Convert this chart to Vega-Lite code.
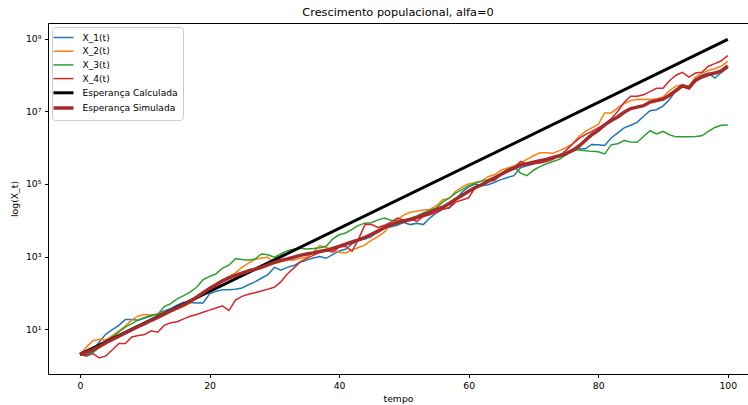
{
  "$schema": "https://vega.github.io/schema/vega-lite/v6.json",
  "autosize": "none",
  "width": 700,
  "height": 351,
  "padding": {"left": 48, "top": 23, "right": 0, "bottom": 31},
  "background": "white",
  "title": {"text": "Crescimento populacional, alfa=0", "fontSize": 11.3, "fontWeight": "normal", "color": "black", "font": "DejaVu Sans", "offset": 5},
  "config": {
    "font": "DejaVu Sans",
    "view": {"stroke": "black", "strokeWidth": 1},
    "axis": {"grid": false, "domain": false, "tickColor": "black", "tickSize": 3.5, "labelFontSize": 9.3, "labelColor": "black", "titleFontSize": 9.3, "titleFontWeight": "normal", "titleColor": "black", "labelPadding": 3.5},
    "legend": {"orient": "top-left", "offset": 4, "fillColor": "rgba(255,255,255,0.8)", "strokeColor": "#cccccc", "cornerRadius": 3, "padding": 4.5, "symbolType": "M-2,0H2", "symbolSize": 100, "labelFontSize": 9.1, "labelColor": "black", "rowPadding": 1.7, "labelOffset": 12}
  },
  "datasets": {
    "calc": [{"t": 0, "s": "Esperança Calculada", "v": 0.301}, {"t": 100, "s": "Esperança Calculada", "v": 8.987}],
    "sim": [
{"t":0,"s":"X_1(t)","v":0.30},{"t":1,"s":"X_1(t)","v":0.29},{"t":2,"s":"X_1(t)","v":0.38},{"t":3,"s":"X_1(t)","v":0.65},{"t":4,"s":"X_1(t)","v":0.86},{"t":5,"s":"X_1(t)","v":0.98},{"t":6,"s":"X_1(t)","v":1.10},{"t":7,"s":"X_1(t)","v":1.26},{"t":8,"s":"X_1(t)","v":1.26},{"t":9,"s":"X_1(t)","v":1.24},{"t":10,"s":"X_1(t)","v":1.30},{"t":11,"s":"X_1(t)","v":1.36},{"t":12,"s":"X_1(t)","v":1.42},{"t":13,"s":"X_1(t)","v":1.50},{"t":14,"s":"X_1(t)","v":1.56},{"t":15,"s":"X_1(t)","v":1.66},{"t":16,"s":"X_1(t)","v":1.74},{"t":17,"s":"X_1(t)","v":1.73},{"t":18,"s":"X_1(t)","v":1.72},{"t":19,"s":"X_1(t)","v":1.72},{"t":20,"s":"X_1(t)","v":1.97},{"t":21,"s":"X_1(t)","v":2.04},{"t":22,"s":"X_1(t)","v":2.08},{"t":23,"s":"X_1(t)","v":2.08},{"t":24,"s":"X_1(t)","v":2.10},{"t":25,"s":"X_1(t)","v":2.13},{"t":26,"s":"X_1(t)","v":2.22},{"t":27,"s":"X_1(t)","v":2.30},{"t":28,"s":"X_1(t)","v":2.40},{"t":29,"s":"X_1(t)","v":2.50},{"t":30,"s":"X_1(t)","v":2.70},{"t":31,"s":"X_1(t)","v":2.62},{"t":32,"s":"X_1(t)","v":2.70},{"t":33,"s":"X_1(t)","v":2.75},{"t":34,"s":"X_1(t)","v":2.85},{"t":35,"s":"X_1(t)","v":2.90},{"t":36,"s":"X_1(t)","v":2.96},{"t":37,"s":"X_1(t)","v":3.00},{"t":38,"s":"X_1(t)","v":2.95},{"t":39,"s":"X_1(t)","v":3.05},{"t":40,"s":"X_1(t)","v":3.15},{"t":41,"s":"X_1(t)","v":3.20},{"t":42,"s":"X_1(t)","v":3.35},{"t":43,"s":"X_1(t)","v":3.45},{"t":44,"s":"X_1(t)","v":3.48},{"t":45,"s":"X_1(t)","v":3.55},{"t":46,"s":"X_1(t)","v":3.70},{"t":47,"s":"X_1(t)","v":3.78},{"t":48,"s":"X_1(t)","v":3.82},{"t":49,"s":"X_1(t)","v":3.86},{"t":50,"s":"X_1(t)","v":3.94},{"t":51,"s":"X_1(t)","v":3.88},{"t":52,"s":"X_1(t)","v":3.92},{"t":53,"s":"X_1(t)","v":3.88},{"t":54,"s":"X_1(t)","v":4.06},{"t":55,"s":"X_1(t)","v":4.20},{"t":56,"s":"X_1(t)","v":4.30},{"t":57,"s":"X_1(t)","v":4.35},{"t":58,"s":"X_1(t)","v":4.57},{"t":59,"s":"X_1(t)","v":4.78},{"t":60,"s":"X_1(t)","v":4.92},{"t":61,"s":"X_1(t)","v":5.00},{"t":62,"s":"X_1(t)","v":4.95},{"t":63,"s":"X_1(t)","v":4.98},{"t":64,"s":"X_1(t)","v":5.05},{"t":65,"s":"X_1(t)","v":5.12},{"t":66,"s":"X_1(t)","v":5.18},{"t":67,"s":"X_1(t)","v":5.23},{"t":68,"s":"X_1(t)","v":5.45},{"t":69,"s":"X_1(t)","v":5.50},{"t":70,"s":"X_1(t)","v":5.55},{"t":71,"s":"X_1(t)","v":5.62},{"t":72,"s":"X_1(t)","v":5.68},{"t":73,"s":"X_1(t)","v":5.73},{"t":74,"s":"X_1(t)","v":5.75},{"t":75,"s":"X_1(t)","v":5.80},{"t":76,"s":"X_1(t)","v":5.95},{"t":77,"s":"X_1(t)","v":5.97},{"t":78,"s":"X_1(t)","v":5.97},{"t":79,"s":"X_1(t)","v":6.09},{"t":80,"s":"X_1(t)","v":6.08},{"t":81,"s":"X_1(t)","v":6.06},{"t":82,"s":"X_1(t)","v":6.27},{"t":83,"s":"X_1(t)","v":6.41},{"t":84,"s":"X_1(t)","v":6.55},{"t":85,"s":"X_1(t)","v":6.62},{"t":86,"s":"X_1(t)","v":6.70},{"t":87,"s":"X_1(t)","v":6.87},{"t":88,"s":"X_1(t)","v":7.02},{"t":89,"s":"X_1(t)","v":7.05},{"t":90,"s":"X_1(t)","v":7.15},{"t":91,"s":"X_1(t)","v":7.33},{"t":92,"s":"X_1(t)","v":7.58},{"t":93,"s":"X_1(t)","v":7.69},{"t":94,"s":"X_1(t)","v":7.70},{"t":95,"s":"X_1(t)","v":7.90},{"t":96,"s":"X_1(t)","v":8.00},{"t":97,"s":"X_1(t)","v":8.06},{"t":98,"s":"X_1(t)","v":7.92},{"t":99,"s":"X_1(t)","v":8.08},{"t":100,"s":"X_1(t)","v":8.20},
{"t":0,"s":"X_2(t)","v":0.30},{"t":1,"s":"X_2(t)","v":0.50},{"t":2,"s":"X_2(t)","v":0.68},{"t":3,"s":"X_2(t)","v":0.72},{"t":4,"s":"X_2(t)","v":0.70},{"t":5,"s":"X_2(t)","v":0.82},{"t":6,"s":"X_2(t)","v":0.95},{"t":7,"s":"X_2(t)","v":1.08},{"t":8,"s":"X_2(t)","v":1.25},{"t":9,"s":"X_2(t)","v":1.36},{"t":10,"s":"X_2(t)","v":1.40},{"t":11,"s":"X_2(t)","v":1.38},{"t":12,"s":"X_2(t)","v":1.42},{"t":13,"s":"X_2(t)","v":1.45},{"t":14,"s":"X_2(t)","v":1.50},{"t":15,"s":"X_2(t)","v":1.55},{"t":16,"s":"X_2(t)","v":1.62},{"t":17,"s":"X_2(t)","v":1.72},{"t":18,"s":"X_2(t)","v":1.85},{"t":19,"s":"X_2(t)","v":2.00},{"t":20,"s":"X_2(t)","v":2.15},{"t":21,"s":"X_2(t)","v":2.25},{"t":22,"s":"X_2(t)","v":2.35},{"t":23,"s":"X_2(t)","v":2.45},{"t":24,"s":"X_2(t)","v":2.55},{"t":25,"s":"X_2(t)","v":2.70},{"t":26,"s":"X_2(t)","v":2.82},{"t":27,"s":"X_2(t)","v":2.92},{"t":28,"s":"X_2(t)","v":2.96},{"t":29,"s":"X_2(t)","v":2.98},{"t":30,"s":"X_2(t)","v":2.80},{"t":31,"s":"X_2(t)","v":2.86},{"t":32,"s":"X_2(t)","v":2.92},{"t":33,"s":"X_2(t)","v":2.90},{"t":34,"s":"X_2(t)","v":2.95},{"t":35,"s":"X_2(t)","v":2.98},{"t":36,"s":"X_2(t)","v":3.12},{"t":37,"s":"X_2(t)","v":3.30},{"t":38,"s":"X_2(t)","v":3.25},{"t":39,"s":"X_2(t)","v":3.18},{"t":40,"s":"X_2(t)","v":3.12},{"t":41,"s":"X_2(t)","v":3.10},{"t":42,"s":"X_2(t)","v":3.18},{"t":43,"s":"X_2(t)","v":3.25},{"t":44,"s":"X_2(t)","v":3.32},{"t":45,"s":"X_2(t)","v":3.45},{"t":46,"s":"X_2(t)","v":3.55},{"t":47,"s":"X_2(t)","v":3.68},{"t":48,"s":"X_2(t)","v":3.88},{"t":49,"s":"X_2(t)","v":4.02},{"t":50,"s":"X_2(t)","v":4.15},{"t":51,"s":"X_2(t)","v":4.22},{"t":52,"s":"X_2(t)","v":4.25},{"t":53,"s":"X_2(t)","v":4.28},{"t":54,"s":"X_2(t)","v":4.30},{"t":55,"s":"X_2(t)","v":4.40},{"t":56,"s":"X_2(t)","v":4.57},{"t":57,"s":"X_2(t)","v":4.60},{"t":58,"s":"X_2(t)","v":4.80},{"t":59,"s":"X_2(t)","v":4.92},{"t":60,"s":"X_2(t)","v":5.00},{"t":61,"s":"X_2(t)","v":5.04},{"t":62,"s":"X_2(t)","v":5.08},{"t":63,"s":"X_2(t)","v":5.20},{"t":64,"s":"X_2(t)","v":5.26},{"t":65,"s":"X_2(t)","v":5.38},{"t":66,"s":"X_2(t)","v":5.44},{"t":67,"s":"X_2(t)","v":5.50},{"t":68,"s":"X_2(t)","v":5.58},{"t":69,"s":"X_2(t)","v":5.68},{"t":70,"s":"X_2(t)","v":5.78},{"t":71,"s":"X_2(t)","v":5.86},{"t":72,"s":"X_2(t)","v":5.86},{"t":73,"s":"X_2(t)","v":5.85},{"t":74,"s":"X_2(t)","v":5.92},{"t":75,"s":"X_2(t)","v":6.00},{"t":76,"s":"X_2(t)","v":6.10},{"t":77,"s":"X_2(t)","v":6.30},{"t":78,"s":"X_2(t)","v":6.45},{"t":79,"s":"X_2(t)","v":6.55},{"t":80,"s":"X_2(t)","v":6.64},{"t":81,"s":"X_2(t)","v":6.96},{"t":82,"s":"X_2(t)","v":6.96},{"t":83,"s":"X_2(t)","v":7.10},{"t":84,"s":"X_2(t)","v":7.22},{"t":85,"s":"X_2(t)","v":7.30},{"t":86,"s":"X_2(t)","v":7.33},{"t":87,"s":"X_2(t)","v":7.34},{"t":88,"s":"X_2(t)","v":7.33},{"t":89,"s":"X_2(t)","v":7.35},{"t":90,"s":"X_2(t)","v":7.40},{"t":91,"s":"X_2(t)","v":7.58},{"t":92,"s":"X_2(t)","v":7.70},{"t":93,"s":"X_2(t)","v":7.74},{"t":94,"s":"X_2(t)","v":7.69},{"t":95,"s":"X_2(t)","v":7.95},{"t":96,"s":"X_2(t)","v":8.05},{"t":97,"s":"X_2(t)","v":8.13},{"t":98,"s":"X_2(t)","v":8.18},{"t":99,"s":"X_2(t)","v":8.25},{"t":100,"s":"X_2(t)","v":8.38},
{"t":0,"s":"X_3(t)","v":0.30},{"t":1,"s":"X_3(t)","v":0.25},{"t":2,"s":"X_3(t)","v":0.35},{"t":3,"s":"X_3(t)","v":0.50},{"t":4,"s":"X_3(t)","v":0.62},{"t":5,"s":"X_3(t)","v":0.78},{"t":6,"s":"X_3(t)","v":0.92},{"t":7,"s":"X_3(t)","v":1.05},{"t":8,"s":"X_3(t)","v":1.15},{"t":9,"s":"X_3(t)","v":1.25},{"t":10,"s":"X_3(t)","v":1.32},{"t":11,"s":"X_3(t)","v":1.38},{"t":12,"s":"X_3(t)","v":1.40},{"t":13,"s":"X_3(t)","v":1.62},{"t":14,"s":"X_3(t)","v":1.70},{"t":15,"s":"X_3(t)","v":1.83},{"t":16,"s":"X_3(t)","v":1.92},{"t":17,"s":"X_3(t)","v":2.02},{"t":18,"s":"X_3(t)","v":2.15},{"t":19,"s":"X_3(t)","v":2.36},{"t":20,"s":"X_3(t)","v":2.45},{"t":21,"s":"X_3(t)","v":2.52},{"t":22,"s":"X_3(t)","v":2.68},{"t":23,"s":"X_3(t)","v":2.76},{"t":24,"s":"X_3(t)","v":2.94},{"t":25,"s":"X_3(t)","v":2.92},{"t":26,"s":"X_3(t)","v":2.90},{"t":27,"s":"X_3(t)","v":2.93},{"t":28,"s":"X_3(t)","v":3.07},{"t":29,"s":"X_3(t)","v":3.05},{"t":30,"s":"X_3(t)","v":2.98},{"t":31,"s":"X_3(t)","v":3.07},{"t":32,"s":"X_3(t)","v":3.16},{"t":33,"s":"X_3(t)","v":3.20},{"t":34,"s":"X_3(t)","v":3.23},{"t":35,"s":"X_3(t)","v":3.21},{"t":36,"s":"X_3(t)","v":3.22},{"t":37,"s":"X_3(t)","v":3.24},{"t":38,"s":"X_3(t)","v":3.28},{"t":39,"s":"X_3(t)","v":3.48},{"t":40,"s":"X_3(t)","v":3.60},{"t":41,"s":"X_3(t)","v":3.65},{"t":42,"s":"X_3(t)","v":3.75},{"t":43,"s":"X_3(t)","v":3.86},{"t":44,"s":"X_3(t)","v":3.92},{"t":45,"s":"X_3(t)","v":3.93},{"t":46,"s":"X_3(t)","v":4.01},{"t":47,"s":"X_3(t)","v":4.06},{"t":48,"s":"X_3(t)","v":4.00},{"t":49,"s":"X_3(t)","v":3.99},{"t":50,"s":"X_3(t)","v":3.97},{"t":51,"s":"X_3(t)","v":4.06},{"t":52,"s":"X_3(t)","v":4.12},{"t":53,"s":"X_3(t)","v":4.20},{"t":54,"s":"X_3(t)","v":4.28},{"t":55,"s":"X_3(t)","v":4.34},{"t":56,"s":"X_3(t)","v":4.50},{"t":57,"s":"X_3(t)","v":4.62},{"t":58,"s":"X_3(t)","v":4.75},{"t":59,"s":"X_3(t)","v":4.85},{"t":60,"s":"X_3(t)","v":4.95},{"t":61,"s":"X_3(t)","v":5.02},{"t":62,"s":"X_3(t)","v":5.08},{"t":63,"s":"X_3(t)","v":5.12},{"t":64,"s":"X_3(t)","v":5.18},{"t":65,"s":"X_3(t)","v":5.28},{"t":66,"s":"X_3(t)","v":5.40},{"t":67,"s":"X_3(t)","v":5.48},{"t":68,"s":"X_3(t)","v":5.30},{"t":69,"s":"X_3(t)","v":5.23},{"t":70,"s":"X_3(t)","v":5.38},{"t":71,"s":"X_3(t)","v":5.48},{"t":72,"s":"X_3(t)","v":5.56},{"t":73,"s":"X_3(t)","v":5.62},{"t":74,"s":"X_3(t)","v":5.68},{"t":75,"s":"X_3(t)","v":5.80},{"t":76,"s":"X_3(t)","v":5.94},{"t":77,"s":"X_3(t)","v":5.94},{"t":78,"s":"X_3(t)","v":5.92},{"t":79,"s":"X_3(t)","v":5.90},{"t":80,"s":"X_3(t)","v":5.89},{"t":81,"s":"X_3(t)","v":5.83},{"t":82,"s":"X_3(t)","v":6.08},{"t":83,"s":"X_3(t)","v":6.11},{"t":84,"s":"X_3(t)","v":6.20},{"t":85,"s":"X_3(t)","v":6.16},{"t":86,"s":"X_3(t)","v":6.15},{"t":87,"s":"X_3(t)","v":6.31},{"t":88,"s":"X_3(t)","v":6.47},{"t":89,"s":"X_3(t)","v":6.38},{"t":90,"s":"X_3(t)","v":6.45},{"t":91,"s":"X_3(t)","v":6.36},{"t":92,"s":"X_3(t)","v":6.30},{"t":93,"s":"X_3(t)","v":6.30},{"t":94,"s":"X_3(t)","v":6.30},{"t":95,"s":"X_3(t)","v":6.31},{"t":96,"s":"X_3(t)","v":6.33},{"t":97,"s":"X_3(t)","v":6.45},{"t":98,"s":"X_3(t)","v":6.56},{"t":99,"s":"X_3(t)","v":6.62},{"t":100,"s":"X_3(t)","v":6.63},
{"t":0,"s":"X_4(t)","v":0.30},{"t":1,"s":"X_4(t)","v":0.26},{"t":2,"s":"X_4(t)","v":0.32},{"t":3,"s":"X_4(t)","v":0.20},{"t":4,"s":"X_4(t)","v":0.26},{"t":5,"s":"X_4(t)","v":0.43},{"t":6,"s":"X_4(t)","v":0.60},{"t":7,"s":"X_4(t)","v":0.60},{"t":8,"s":"X_4(t)","v":0.78},{"t":9,"s":"X_4(t)","v":0.82},{"t":10,"s":"X_4(t)","v":0.85},{"t":11,"s":"X_4(t)","v":0.95},{"t":12,"s":"X_4(t)","v":0.91},{"t":13,"s":"X_4(t)","v":1.10},{"t":14,"s":"X_4(t)","v":1.17},{"t":15,"s":"X_4(t)","v":1.20},{"t":16,"s":"X_4(t)","v":1.28},{"t":17,"s":"X_4(t)","v":1.35},{"t":18,"s":"X_4(t)","v":1.40},{"t":19,"s":"X_4(t)","v":1.46},{"t":20,"s":"X_4(t)","v":1.52},{"t":21,"s":"X_4(t)","v":1.58},{"t":22,"s":"X_4(t)","v":1.64},{"t":23,"s":"X_4(t)","v":1.51},{"t":24,"s":"X_4(t)","v":1.80},{"t":25,"s":"X_4(t)","v":1.90},{"t":26,"s":"X_4(t)","v":1.96},{"t":27,"s":"X_4(t)","v":2.00},{"t":28,"s":"X_4(t)","v":2.05},{"t":29,"s":"X_4(t)","v":2.10},{"t":30,"s":"X_4(t)","v":2.15},{"t":31,"s":"X_4(t)","v":2.30},{"t":32,"s":"X_4(t)","v":2.52},{"t":33,"s":"X_4(t)","v":2.68},{"t":34,"s":"X_4(t)","v":2.85},{"t":35,"s":"X_4(t)","v":2.95},{"t":36,"s":"X_4(t)","v":3.03},{"t":37,"s":"X_4(t)","v":3.12},{"t":38,"s":"X_4(t)","v":3.18},{"t":39,"s":"X_4(t)","v":3.12},{"t":40,"s":"X_4(t)","v":3.26},{"t":41,"s":"X_4(t)","v":3.28},{"t":42,"s":"X_4(t)","v":3.15},{"t":43,"s":"X_4(t)","v":3.48},{"t":44,"s":"X_4(t)","v":3.88},{"t":45,"s":"X_4(t)","v":3.88},{"t":46,"s":"X_4(t)","v":3.80},{"t":47,"s":"X_4(t)","v":3.86},{"t":48,"s":"X_4(t)","v":3.95},{"t":49,"s":"X_4(t)","v":4.06},{"t":50,"s":"X_4(t)","v":4.00},{"t":51,"s":"X_4(t)","v":4.04},{"t":52,"s":"X_4(t)","v":3.97},{"t":53,"s":"X_4(t)","v":4.10},{"t":54,"s":"X_4(t)","v":4.15},{"t":55,"s":"X_4(t)","v":4.22},{"t":56,"s":"X_4(t)","v":4.31},{"t":57,"s":"X_4(t)","v":4.34},{"t":58,"s":"X_4(t)","v":4.50},{"t":59,"s":"X_4(t)","v":4.56},{"t":60,"s":"X_4(t)","v":4.62},{"t":61,"s":"X_4(t)","v":4.90},{"t":62,"s":"X_4(t)","v":5.00},{"t":63,"s":"X_4(t)","v":5.07},{"t":64,"s":"X_4(t)","v":5.10},{"t":65,"s":"X_4(t)","v":5.25},{"t":66,"s":"X_4(t)","v":5.35},{"t":67,"s":"X_4(t)","v":5.44},{"t":68,"s":"X_4(t)","v":5.62},{"t":69,"s":"X_4(t)","v":5.53},{"t":70,"s":"X_4(t)","v":5.56},{"t":71,"s":"X_4(t)","v":5.58},{"t":72,"s":"X_4(t)","v":5.62},{"t":73,"s":"X_4(t)","v":5.68},{"t":74,"s":"X_4(t)","v":5.78},{"t":75,"s":"X_4(t)","v":5.92},{"t":76,"s":"X_4(t)","v":6.10},{"t":77,"s":"X_4(t)","v":6.25},{"t":78,"s":"X_4(t)","v":6.36},{"t":79,"s":"X_4(t)","v":6.45},{"t":80,"s":"X_4(t)","v":6.55},{"t":81,"s":"X_4(t)","v":6.65},{"t":82,"s":"X_4(t)","v":6.80},{"t":83,"s":"X_4(t)","v":7.00},{"t":84,"s":"X_4(t)","v":7.25},{"t":85,"s":"X_4(t)","v":7.42},{"t":86,"s":"X_4(t)","v":7.42},{"t":87,"s":"X_4(t)","v":7.46},{"t":88,"s":"X_4(t)","v":7.55},{"t":89,"s":"X_4(t)","v":7.64},{"t":90,"s":"X_4(t)","v":7.64},{"t":91,"s":"X_4(t)","v":7.85},{"t":92,"s":"X_4(t)","v":8.00},{"t":93,"s":"X_4(t)","v":8.08},{"t":94,"s":"X_4(t)","v":7.95},{"t":95,"s":"X_4(t)","v":8.06},{"t":96,"s":"X_4(t)","v":8.08},{"t":97,"s":"X_4(t)","v":8.25},{"t":98,"s":"X_4(t)","v":8.32},{"t":99,"s":"X_4(t)","v":8.40},{"t":100,"s":"X_4(t)","v":8.54},
{"t":0,"s":"Esperança Simulada","v":0.30},{"t":1,"s":"Esperança Simulada","v":0.36},{"t":2,"s":"Esperança Simulada","v":0.43},{"t":3,"s":"Esperança Simulada","v":0.52},{"t":4,"s":"Esperança Simulada","v":0.62},{"t":5,"s":"Esperança Simulada","v":0.71},{"t":6,"s":"Esperança Simulada","v":0.80},{"t":7,"s":"Esperança Simulada","v":0.89},{"t":8,"s":"Esperança Simulada","v":0.98},{"t":9,"s":"Esperança Simulada","v":1.07},{"t":10,"s":"Esperança Simulada","v":1.15},{"t":11,"s":"Esperança Simulada","v":1.24},{"t":12,"s":"Esperança Simulada","v":1.32},{"t":13,"s":"Esperança Simulada","v":1.41},{"t":14,"s":"Esperança Simulada","v":1.50},{"t":15,"s":"Esperança Simulada","v":1.58},{"t":16,"s":"Esperança Simulada","v":1.67},{"t":17,"s":"Esperança Simulada","v":1.76},{"t":18,"s":"Esperança Simulada","v":1.88},{"t":19,"s":"Esperança Simulada","v":2.00},{"t":20,"s":"Esperança Simulada","v":2.12},{"t":21,"s":"Esperança Simulada","v":2.22},{"t":22,"s":"Esperança Simulada","v":2.33},{"t":23,"s":"Esperança Simulada","v":2.41},{"t":24,"s":"Esperança Simulada","v":2.48},{"t":25,"s":"Esperança Simulada","v":2.54},{"t":26,"s":"Esperança Simulada","v":2.60},{"t":27,"s":"Esperança Simulada","v":2.65},{"t":28,"s":"Esperança Simulada","v":2.70},{"t":29,"s":"Esperança Simulada","v":2.77},{"t":30,"s":"Esperança Simulada","v":2.84},{"t":31,"s":"Esperança Simulada","v":2.89},{"t":32,"s":"Esperança Simulada","v":2.93},{"t":33,"s":"Esperança Simulada","v":2.98},{"t":34,"s":"Esperança Simulada","v":3.03},{"t":35,"s":"Esperança Simulada","v":3.07},{"t":36,"s":"Esperança Simulada","v":3.10},{"t":37,"s":"Esperança Simulada","v":3.14},{"t":38,"s":"Esperança Simulada","v":3.17},{"t":39,"s":"Esperança Simulada","v":3.22},{"t":40,"s":"Esperança Simulada","v":3.28},{"t":41,"s":"Esperança Simulada","v":3.34},{"t":42,"s":"Esperança Simulada","v":3.40},{"t":43,"s":"Esperança Simulada","v":3.46},{"t":44,"s":"Esperança Simulada","v":3.53},{"t":45,"s":"Esperança Simulada","v":3.61},{"t":46,"s":"Esperança Simulada","v":3.70},{"t":47,"s":"Esperança Simulada","v":3.80},{"t":48,"s":"Esperança Simulada","v":3.88},{"t":49,"s":"Esperança Simulada","v":3.93},{"t":50,"s":"Esperança Simulada","v":3.98},{"t":51,"s":"Esperança Simulada","v":4.02},{"t":52,"s":"Esperança Simulada","v":4.07},{"t":53,"s":"Esperança Simulada","v":4.15},{"t":54,"s":"Esperança Simulada","v":4.22},{"t":55,"s":"Esperança Simulada","v":4.29},{"t":56,"s":"Esperança Simulada","v":4.36},{"t":57,"s":"Esperança Simulada","v":4.46},{"t":58,"s":"Esperança Simulada","v":4.58},{"t":59,"s":"Esperança Simulada","v":4.69},{"t":60,"s":"Esperança Simulada","v":4.80},{"t":61,"s":"Esperança Simulada","v":4.90},{"t":62,"s":"Esperança Simulada","v":4.98},{"t":63,"s":"Esperança Simulada","v":5.08},{"t":64,"s":"Esperança Simulada","v":5.17},{"t":65,"s":"Esperança Simulada","v":5.27},{"t":66,"s":"Esperança Simulada","v":5.36},{"t":67,"s":"Esperança Simulada","v":5.44},{"t":68,"s":"Esperança Simulada","v":5.52},{"t":69,"s":"Esperança Simulada","v":5.56},{"t":70,"s":"Esperança Simulada","v":5.60},{"t":71,"s":"Esperança Simulada","v":5.64},{"t":72,"s":"Esperança Simulada","v":5.68},{"t":73,"s":"Esperança Simulada","v":5.73},{"t":74,"s":"Esperança Simulada","v":5.78},{"t":75,"s":"Esperança Simulada","v":5.84},{"t":76,"s":"Esperança Simulada","v":5.92},{"t":77,"s":"Esperança Simulada","v":6.04},{"t":78,"s":"Esperança Simulada","v":6.20},{"t":79,"s":"Esperança Simulada","v":6.36},{"t":80,"s":"Esperança Simulada","v":6.48},{"t":81,"s":"Esperança Simulada","v":6.63},{"t":82,"s":"Esperança Simulada","v":6.75},{"t":83,"s":"Esperança Simulada","v":6.85},{"t":84,"s":"Esperança Simulada","v":6.98},{"t":85,"s":"Esperança Simulada","v":7.08},{"t":86,"s":"Esperança Simulada","v":7.12},{"t":87,"s":"Esperança Simulada","v":7.16},{"t":88,"s":"Esperança Simulada","v":7.26},{"t":89,"s":"Esperança Simulada","v":7.30},{"t":90,"s":"Esperança Simulada","v":7.34},{"t":91,"s":"Esperança Simulada","v":7.45},{"t":92,"s":"Esperança Simulada","v":7.58},{"t":93,"s":"Esperança Simulada","v":7.71},{"t":94,"s":"Esperança Simulada","v":7.65},{"t":95,"s":"Esperança Simulada","v":7.86},{"t":96,"s":"Esperança Simulada","v":7.95},{"t":97,"s":"Esperança Simulada","v":8.02},{"t":98,"s":"Esperança Simulada","v":8.06},{"t":99,"s":"Esperança Simulada","v":8.12},{"t":100,"s":"Esperança Simulada","v":8.26}
    ]
  },
  "encoding": {
    "x": {"field": "t", "type": "quantitative", "scale": {"domain": [-4.94, 103.12], "nice": false, "zero": false}, "axis": {"values": [0, 20, 40, 60, 80, 100], "title": "tempo", "titlePadding": 4}},
    "y": {"field": "v", "type": "quantitative", "scale": {"domain": [-0.241, 9.441], "nice": false, "zero": false}, "axis": {"values": [1, 3, 5, 7, 9], "title": "log(X_t)", "titlePadding": 6, "labelExpr": "datum.value == 1 ? '10¹' : datum.value == 3 ? '10³' : datum.value == 5 ? '10⁵' : datum.value == 7 ? '10⁷' : '10⁹'"}},
    "color": {"field": "s", "type": "nominal", "scale": {"domain": ["X_1(t)", "X_2(t)", "X_3(t)", "X_4(t)", "Esperança Calculada", "Esperança Simulada"], "range": ["#1f77b4", "#ff7f0e", "#2ca02c", "#d62728", "#000000", "#a52a2a"]}, "legend": {"title": null}},
    "strokeWidth": {"field": "s", "type": "nominal", "scale": {"type": "ordinal", "domain": ["X_1(t)", "X_2(t)", "X_3(t)", "X_4(t)", "Esperança Calculada", "Esperança Simulada"], "range": [1.5, 1.5, 1.5, 1.5, 3, 3.5]}, "legend": {"title": null}}
  },
  "layer": [
    {"data": {"name": "sim"}, "transform": [{"filter": {"field": "s", "equal": "X_1(t)"}}], "mark": {"type": "line"}},
    {"data": {"name": "sim"}, "transform": [{"filter": {"field": "s", "equal": "X_2(t)"}}], "mark": {"type": "line"}},
    {"data": {"name": "sim"}, "transform": [{"filter": {"field": "s", "equal": "X_3(t)"}}], "mark": {"type": "line"}},
    {"data": {"name": "sim"}, "transform": [{"filter": {"field": "s", "equal": "X_4(t)"}}], "mark": {"type": "line"}},
    {"data": {"name": "calc"}, "mark": {"type": "line"}},
    {"data": {"name": "sim"}, "transform": [{"filter": {"field": "s", "equal": "Esperança Simulada"}}], "mark": {"type": "line"}}
  ]
}
